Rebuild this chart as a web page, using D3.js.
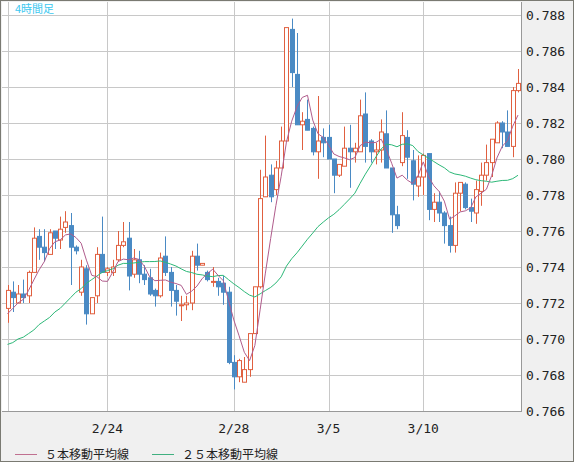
<!DOCTYPE html>
<html>
<head>
<meta charset="utf-8">
<script src="https://cdn.jsdelivr.net/npm/d3@7"></script>
<style>
  body { margin: 0; background: #f0f0f0; }
  svg { display: block; }
</style>
</head>
<body>
<svg id="chart" width="574" height="462"></svg>
<script>
// 4h candles: open, high, low, close
var opens = [0.7717,0.7726,0.7720,0.7725,0.7724,0.7737,0.7757,0.7751,0.7747,0.7760,0.7755,0.7762,0.7763,0.7751,0.7726,0.7739,0.7714,0.7724,0.7747,0.7737,
  0.7737,0.7744,0.7752,0.7756,0.7736,0.7744,0.7736,0.7734,0.7727,0.7724,0.7746,0.7737,0.7727,0.7719,0.7719,0.7720,0.7746,0.7741,0.7737,0.7732,
  0.7732,0.7731,0.7726,0.7687,0.7679,0.7676,0.7683,0.7703,0.7729,0.7779,0.7791,0.7783,0.7795,0.7810,0.7872,0.7847,0.7819,0.7822,0.7817,0.7804,
  0.7812,0.7812,0.7800,0.7791,0.7796,0.7806,0.7804,0.7804,0.7825,0.7810,0.7804,0.7805,0.7814,0.7795,0.7769,0.7798,0.7812,0.7799,0.7785,0.7790,
  0.7803,0.7772,0.7776,0.7770,0.7763,0.7752,0.7781,0.7786,0.7773,0.7770,0.7782,0.7791,0.7798,0.7809,0.7820,0.7815,0.7807,0.7838];
var highs = [0.7730,0.7732,0.7730,0.7733,0.7738,0.7762,0.7761,0.7761,0.7761,0.7760,0.7768,0.7771,0.7770,0.7752,0.7744,0.7741,0.7723,0.7751,0.7768,0.7740,
  0.7744,0.7760,0.7765,0.7765,0.7750,0.7749,0.7741,0.7739,0.7728,0.7748,0.7757,0.7740,0.7730,0.7724,0.7724,0.7749,0.7753,0.7742,0.7738,0.7740,
  0.7734,0.7735,0.7729,0.7691,0.7689,0.7690,0.7703,0.7729,0.7794,0.7813,0.7797,0.7799,0.7818,0.7873,0.7878,0.7870,0.7826,0.7833,0.7818,0.7835,
  0.7817,0.7819,0.7800,0.7797,0.7818,0.7819,0.7809,0.7833,0.7837,0.7811,0.7809,0.7822,0.7827,0.7795,0.7774,0.7826,0.7816,0.7805,0.7802,0.7803,
  0.7803,0.7781,0.7782,0.7771,0.7768,0.7787,0.7787,0.7787,0.7778,0.7788,0.7798,0.7808,0.7811,0.7821,0.7821,0.7827,0.7840,0.7850];
var lows = [0.7709,0.7715,0.7720,0.7720,0.7720,0.7737,0.7744,0.7743,0.7747,0.7750,0.7750,0.7759,0.7730,0.7747,0.7724,0.7708,0.7714,0.7720,0.7737,0.7735,
  0.7735,0.7743,0.7751,0.7727,0.7734,0.7731,0.7730,0.7724,0.7718,0.7723,0.7735,0.7718,0.7713,0.7710,0.7716,0.7716,0.7738,0.7741,0.7732,0.7729,
  0.7724,0.7719,0.7686,0.7672,0.7676,0.7676,0.7679,0.7703,0.7728,0.7779,0.7776,0.7780,0.7795,0.7810,0.7840,0.7819,0.7805,0.7816,0.7802,0.7789,
  0.7801,0.7800,0.7781,0.7790,0.7796,0.7784,0.7798,0.7804,0.7798,0.7798,0.7797,0.7798,0.7795,0.7759,0.7761,0.7796,0.7789,0.7777,0.7779,0.7780,
  0.7766,0.7765,0.7765,0.7753,0.7748,0.7748,0.7771,0.7772,0.7765,0.7764,0.7774,0.7788,0.7790,0.7809,0.7806,0.7807,0.7801,0.7837];
var closes = [0.7727,0.7723,0.7725,0.7723,0.7737,0.7756,0.7751,0.7748,0.7759,0.7756,0.7761,0.7765,0.7751,0.7749,0.7740,0.7714,0.7723,0.7747,0.7737,0.7739,
  0.7740,0.7752,0.7754,0.7735,0.7744,0.7736,0.7733,0.7725,0.7724,0.7745,0.7737,0.7727,0.7721,0.7719,0.7720,0.7746,0.7741,0.7742,0.7733,0.7732,
  0.7729,0.7726,0.7687,0.7679,0.7688,0.7683,0.7703,0.7729,0.7778,0.7790,0.7779,0.7795,0.7810,0.7873,0.7848,0.7819,0.7821,0.7816,0.7804,0.7810,
  0.7809,0.7800,0.7791,0.7797,0.7806,0.7804,0.7806,0.7824,0.7807,0.7804,0.7805,0.7815,0.7795,0.7769,0.7763,0.7813,0.7801,0.7786,0.7790,0.7802,
  0.7772,0.7776,0.7770,0.7763,0.7752,0.7781,0.7787,0.7773,0.7771,0.7783,0.7791,0.7798,0.7811,0.7820,0.7815,0.7807,0.7838,0.7842];

// moving average values before enough bars are on screen
var ma5Head = [0.7714,0.7717,0.7720,0.7722];
var ma25Head = [0.7697,0.7698,0.7700,0.7701,0.7703,0.7705,0.7708,0.7710,0.7712,0.7715,0.7717,0.7720,0.7723,0.7726,0.7728,0.7731,0.7733,0.7735,0.7737,0.7738,
  0.7739,0.7741,0.7742,0.7742];

var dateTicks = [19, 43, 61, 79];
var dateLabels = ["2/24", "2/28", "3/5", "3/10"];
var priceTicks = d3.range(0.766, 0.7885, 0.002);

var svg = d3.select("#chart");
var pLeft = 2, pRight = 521, pTop = 2, pBottom = 411;

var x = d3.scaleLinear().domain([0, 97]).range([7.5, 518]);
var y = d3.scaleLinear().domain([0.766, 0.788]).range([411, 15]);

svg.append("rect").attr("x", 0.5).attr("y", 0.5).attr("width", 573).attr("height", 461)
  .attr("fill", "#f0f0f0").attr("stroke", "#7a7a72");
svg.append("rect").attr("x", pLeft).attr("y", pTop).attr("width", pRight - pLeft).attr("height", pBottom - pTop)
  .attr("fill", "#fff");

// grid
svg.selectAll(".hg").data(priceTicks).enter().append("line")
  .attr("x1", pLeft).attr("x2", pRight)
  .attr("y1", d => Math.round(y(d)) + 0.5).attr("y2", d => Math.round(y(d)) + 0.5)
  .attr("stroke", "#c8c8c8");
svg.selectAll(".vg").data([0].concat(dateTicks)).enter().append("line")
  .attr("y1", pTop).attr("y2", pBottom)
  .attr("x1", d => Math.round(x(d)) + 0.5).attr("x2", d => Math.round(x(d)) + 0.5)
  .attr("stroke", "#c8c8c8");

// frame
svg.append("line").attr("x1", pLeft).attr("x2", pRight + 1).attr("y1", pBottom + 0.5).attr("y2", pBottom + 0.5).attr("stroke", "#999");
svg.append("line").attr("x1", pRight + 0.5).attr("x2", pRight + 0.5).attr("y1", pTop).attr("y2", pBottom + 1).attr("stroke", "#999");

// labels
svg.selectAll(".yl").data(priceTicks).enter().append("text")
  .attr("x", 526).attr("y", d => y(d) + 5)
  .attr("font-family", "DejaVu Sans Mono").attr("font-size", 13).attr("fill", "#222")
  .text(d => d3.format(".3f")(d));
svg.selectAll(".xl").data(dateTicks).enter().append("text")
  .attr("x", d => x(d)).attr("y", 433).attr("text-anchor", "middle")
  .attr("font-family", "DejaVu Sans Mono").attr("font-size", 13).attr("fill", "#222")
  .text((d, i) => dateLabels[i]);

svg.append("text").attr("x", 15).attr("y", 13)
  .attr("font-family", "Noto Sans CJK JP").attr("font-size", 11).attr("fill", "#3cc8f0")
  .text("4時間足");

// candles
var idx = d3.range(closes.length);
var g = svg.append("g");
g.selectAll(".wick").data(idx).enter().append("line")
  .attr("x1", i => Math.round(x(i)) + 0.5).attr("x2", i => Math.round(x(i)) + 0.5)
  .attr("y1", i => y(highs[i])).attr("y2", i => y(lows[i]))
  .attr("stroke", i => closes[i] >= opens[i] ? "#e06040" : "#4a8ac4");
g.selectAll(".body").data(idx).enter().append("rect")
  .attr("x", i => Math.round(x(i)) - 1.5)
  .attr("width", 4)
  .attr("y", i => y(Math.max(opens[i], closes[i])))
  .attr("height", i => Math.max(1, Math.abs(y(opens[i]) - y(closes[i]))))
  .attr("fill", i => closes[i] >= opens[i] ? "#fff" : "#4a8ac4")
  .attr("stroke", i => closes[i] >= opens[i] ? "#e06040" : "#4a8ac4");

// moving averages
function sma(n, head) {
  return idx.map(function (i) {
    if (i < head.length) return head[i];
    return d3.mean(closes.slice(i - n + 1, i + 1));
  });
}
var ma5 = sma(5, ma5Head), ma25 = sma(25, ma25Head);
var line = d3.line().x((d, i) => x(i)).y(d => y(d));
svg.append("path").datum(ma25).attr("d", line).attr("fill", "none").attr("stroke", "#2db878").attr("stroke-width", 1);
svg.append("path").datum(ma5).attr("d", line).attr("fill", "none").attr("stroke", "#b05c8c").attr("stroke-width", 1);

// legend
var legend = [["５本移動平均線", "#c07090", 15], ["２５本移動平均線", "#40b080", 152]];
legend.forEach(function (l) {
  svg.append("line").attr("x1", l[2]).attr("x2", l[2] + 22).attr("y1", 454.5).attr("y2", 454.5).attr("stroke", l[1]);
  svg.append("text").attr("x", l[2] + 30).attr("y", 459)
    .attr("font-family", "Noto Sans CJK JP").attr("font-size", 12).attr("fill", "#222")
    .text(l[0]);
});
</script>
</body>
</html>
